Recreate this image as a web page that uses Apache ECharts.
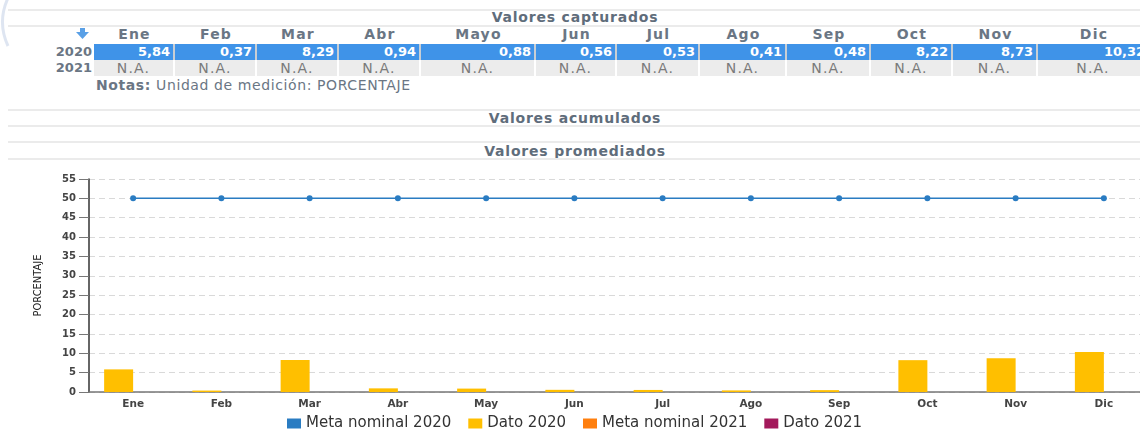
<!DOCTYPE html>
<html>
<head>
<meta charset="utf-8">
<script src="https://cdn.jsdelivr.net/npm/echarts@6/dist/echarts.min.js"></script>
<style>
  html, body { margin: 0; padding: 0; background: #fff; }
  body { width: 1140px; height: 430px; overflow: hidden; position: relative; font-family: "DejaVu Sans", sans-serif; }
  .hline { position: absolute; left: 8px; width: 1132px; height: 2px; background: #ebebeb; }
  .title { position: absolute; left: 0; width: 1150px; text-align: center; font-weight: bold; font-size: 14px; color: #5f6d7b; letter-spacing: 0.8px; line-height: 16px; }
  .cell { position: absolute; box-sizing: border-box; font-size: 13px; line-height: 16px; height: 16px; }
  .mes { font-weight: bold; color: #6a7684; text-align: center; letter-spacing: 1.2px; font-size: 14px; }
  .v20 { background: #3f93e8; color: #fff; font-weight: bold; text-align: right; padding-right: 3px; border-right: 2px solid #c9ced4; }
  .v21 { background: #ececec; color: #7a7a7a; text-align: center; border-right: 2px solid #fff; letter-spacing: 1.2px; font-size: 14px; }
  .anio { font-weight: bold; color: #6a7684; text-align: right; }
  #chart { position: absolute; left: 0; top: 160px; width: 1160px; height: 270px; }
</style>
</head>
<body>
<svg style="position:absolute;left:0;top:0" width="14" height="50">
  <path d="M 10 -6 Q -4 20 8 46" stroke="#b5c6e0" stroke-width="3" fill="none" opacity="0.45"/>
</svg>
<div class="hline" style="top:9px"></div>
<div class="title" style="top:9px">Valores capturados</div>
<div class="hline" style="top:25px"></div>
<svg style="position:absolute;left:76px;top:28px" width="13" height="11" viewBox="0 0 13 11">
  <rect x="4" y="0" width="5" height="5" fill="#5aa0e6"/>
  <polygon points="0,4 13,4 6.5,11" fill="#5aa0e6"/>
</svg>
<div id="tabla"></div>
<div style="position:absolute;left:96px;top:77px;font-size:14px;color:#6a7684;letter-spacing:0.6px"><b>Notas:</b> Unidad de medición: PORCENTAJE</div>
<div class="hline" style="top:109px"></div>
<div class="title" style="top:110px">Valores acumulados</div>
<div class="hline" style="top:125px"></div>
<div class="hline" style="top:141px"></div>
<div class="title" style="top:143px">Valores promediados</div>
<div class="hline" style="top:158px"></div>
<div id="chart"></div>
<script>
// encabezados de la tabla y del eje
const mesesTabla = ["Ene", "Feb", "Mar", "Abr", "Mayo", "Jun", "Jul", "Ago", "Sep", "Oct", "Nov", "Dic"];
const mesesEje = ["Ene", "Feb", "Mar", "Abr", "May", "Jun", "Jul", "Ago", "Sep", "Oct", "Nov", "Dic"];
const anios = ["2020", "2021"];
// valores capturados
const dato2020 = [5.84, 0.37, 8.29, 0.94, 0.88, 0.56, 0.53, 0.41, 0.48, 8.22, 8.73, 10.32];
const dato2021 = [null, null, null, null, null, null, null, null, null, null, null, null];
const meta2020 = [50, 50, 50, 50, 50, 50, 50, 50, 50, 50, 50, 50];
const meta2021 = [null, null, null, null, null, null, null, null, null, null, null, null];

// bordes de columnas de la tabla
const colX = [94, 175, 257, 339, 421, 536, 617, 700, 787, 871, 953, 1038, 1150];

function fmt(v) {
  return v == null ? "N.A." : v.toFixed(2).replace(".", ",");
}

let html = "";
html += '<div class="cell anio" style="left:40px;width:52px;top:44px">' + anios[0] + '</div>';
html += '<div class="cell anio" style="left:40px;width:52px;top:60px">' + anios[1] + '</div>';
for (let i = 0; i < mesesTabla.length; i++) {
  let l = colX[i], w = colX[i + 1] - colX[i];
  html += '<div class="cell mes" style="left:' + l + 'px;width:' + w + 'px;top:26px">' + mesesTabla[i] + '</div>';
  html += '<div class="cell v20" style="left:' + l + 'px;width:' + w + 'px;top:44px">' + fmt(dato2020[i]) + '</div>';
  html += '<div class="cell v21" style="left:' + l + 'px;width:' + w + 'px;top:60px">' + fmt(dato2021[i]) + '</div>';
}
document.getElementById("tabla").innerHTML = html;

const chart = echarts.init(document.getElementById("chart"));
const fuente = "DejaVu Sans";
chart.setOption({
  animation: false,
  grid: { left: 89, right: 12, top: 19, bottom: 38 },
  legend: {
    top: 251,
    left: 282,
    itemWidth: 14,
    itemHeight: 10,
    itemGap: 17,
    icon: "rect",
    textStyle: { fontFamily: fuente, fontSize: 15, color: "#333" },
    data: ["Meta nominal 2020", "Dato 2020", "Meta nominal 2021", "Dato 2021"]
  },
  xAxis: {
    type: "category",
    data: mesesEje,
    axisLine: { lineStyle: { color: "#777", width: 1.5 } },
    axisTick: { length: 5, lineStyle: { color: "#333", width: 1.5 } },
    axisLabel: { fontFamily: fuente, fontSize: 10.5, fontWeight: "bold", color: "#444", margin: 7 }
  },
  yAxis: {
    type: "value",
    min: 0,
    max: 55,
    interval: 5,
    name: "PORCENTAJE",
    nameLocation: "middle",
    nameRotate: 90,
    nameGap: 45,
    nameTextStyle: { fontFamily: "Liberation Sans Narrow, DejaVu Sans Condensed, Liberation Sans", fontSize: 11, color: "#222" },
    axisLine: { show: true, lineStyle: { color: "#333", width: 1.5 } },
    axisTick: { show: true, length: 10, lineStyle: { color: "#777" } },
    axisLabel: { fontFamily: fuente, fontSize: 10, fontWeight: "bold", color: "#444", margin: 13 },
    splitLine: { lineStyle: { color: "#d9d9d9", type: [6, 4] } }
  },
  series: [
    {
      name: "Meta nominal 2020",
      type: "line",
      data: meta2020,
      color: "#2a7cc2",
      symbol: "circle",
      symbolSize: 6,
      lineStyle: { width: 1.5 }
    },
    {
      name: "Dato 2020",
      type: "bar",
      data: dato2020,
      color: "#ffbf00",
      barWidth: 29,
      barGap: "0%"
    },
    {
      name: "Meta nominal 2021",
      type: "line",
      data: meta2021,
      color: "#ff7f0e",
      symbol: "circle",
      symbolSize: 6
    },
    {
      name: "Dato 2021",
      type: "bar",
      data: dato2021,
      color: "#a3195b",
      barWidth: 29
    }
  ]
});
</script>
</body>
</html>
